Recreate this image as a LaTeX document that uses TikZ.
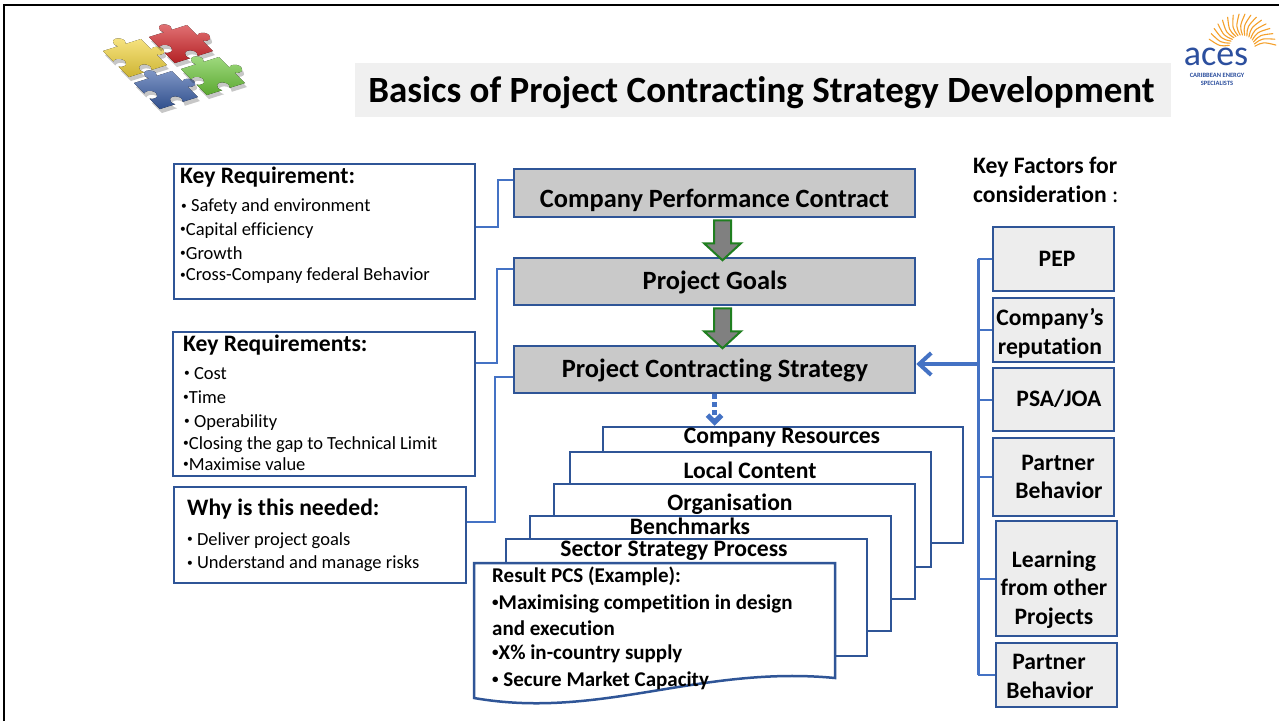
\documentclass[tikz,border=0pt]{standalone}
\usepackage{fontspec}
\setmainfont{Carlito}[Ligatures={NoCommon}]
\usetikzlibrary{arrows.meta,calc}

\definecolor{dkblue}{HTML}{2F5597}
\definecolor{lnblue}{HTML}{4472C4}
\definecolor{boxgray}{HTML}{C9C9C9}
\definecolor{factgray}{HTML}{EDEDED}
\definecolor{titlebg}{HTML}{F0F0F0}
\definecolor{arrowgray}{HTML}{808080}
\definecolor{arrowgreen}{HTML}{1F7F1F}
\definecolor{acesblue}{HTML}{2C4F9E}
\definecolor{sunorange}{HTML}{F5A02A}
\definecolor{pzyellow}{HTML}{F2D43C}
\definecolor{pzred}{HTML}{D2262A}
\definecolor{pzblue}{HTML}{3A5EA6}
\definecolor{pzgreen}{HTML}{6CC63A}

% font sizes (1pt = 1 unit of the drawing)
\newcommand\ftitle{\fontsize{37}{44}\selectfont\bfseries}
\newcommand\fmid{\fontsize{26.4}{31}\selectfont\bfseries}
\newcommand\fhead{\fontsize{23.6}{28}\selectfont\bfseries}
\newcommand\fitem{\fontsize{18.5}{22}\selectfont}
\newcommand\fres{\fontsize{21}{25}\selectfont\bfseries}
% small list bullet
\newcommand\bul{\raisebox{0.12em}{\scalebox{0.62}{\textbullet}}}

% one jigsaw piece in the unit square
\newcommand\puzzshape{(0,0) -- (0.4,0) arc[start angle=135,end angle=405,radius=0.1414]
  -- (1,0) -- (1,0.4) arc[start angle=-135,end angle=135,radius=0.1414]
  -- (1,1) -- (0.6,1) arc[start angle=45,end angle=-225,radius=0.1414]
  -- (0,1) -- (0,0.6) arc[start angle=135,end angle=-135,radius=0.1414] -- cycle}

\begin{document}
\begin{tikzpicture}[x=1pt,y=-1pt,
  lbox/.style={draw=dkblue, line width=2.5pt, fill=white, inner sep=0pt},
  cbox/.style={draw=dkblue, line width=2.5pt, fill=boxgray, inner sep=0pt},
  rbox/.style={draw=dkblue, line width=2.5pt, fill=factgray, inner sep=0pt},
  pagebox/.style={draw=dkblue, line width=2.5pt, fill=white, inner sep=0pt},
  conn/.style={draw=lnblue, line width=2pt},
  bus/.style={draw=lnblue, line width=3pt},
  hubarrow/.style={draw=lnblue, line width=4pt, -{Straight Barb[length=12pt,width=22pt]}},
  dasharrow/.style={draw=lnblue, line width=5pt, dash pattern=on 5pt off 3pt, -{Straight Barb[length=7pt,width=14pt]}},
  garrow/.style={fill=arrowgray, draw=arrowgreen, line width=2pt, line join=miter},
  lt/.style={anchor=base west, inner sep=0pt},
  ct/.style={anchor=base, inner sep=0pt},
  sunray/.style={draw=sunorange, line width=1.1pt, line cap=round}
]
\useasboundingbox (0,0) rectangle (1279,721);
\fill[white] (0,0) rectangle (1279,721);

% outer frame
\draw[line width=2pt] (4,721) -- (4,5) -- (1279,5);

% jigsaw pieces
\foreach \px/\py/\pc in {135/58/pzyellow, 181/44/pzred, 166/90/pzblue, 213/76/pzgreen}{
  \fill[black, opacity=0.22, shift={(\px+2,\py+4)}, x={(38pt,12pt)}, y={(26pt,-26pt)}, shift={(-0.5,-0.5)}] \puzzshape;
  \fill[top color=\pc!65!white, bottom color=\pc!85!black, shift={(\px,\py)}, x={(38pt,12pt)}, y={(26pt,-26pt)}, shift={(-0.5,-0.5)}] \puzzshape;
}

% logo
\coordinate (sunc) at (1242,48);
\foreach \a in {8,18,...,168}{
  \draw[sunray] ($(sunc)+(-\a:13)$) .. controls ($(sunc)+(-\a-8:22)$) .. ($(sunc)+(-\a+3:34)$);
}
\node[ct, text=acesblue, font=\fontsize{36}{40}\selectfont] (aces) at (1216,65) {aces};
\node[ct, text=acesblue, font=\fontsize{6.5}{7}\selectfont\bfseries] (acesa) at (1217,77) {CARIBBEAN ENERGY};
\node[ct, text=acesblue, font=\fontsize{6.5}{7}\selectfont\bfseries] (acesb) at (1217,85) {SPECIALISTS};

% title
\node[fill=titlebg, minimum width=816pt, minimum height=54pt, inner sep=0pt] (titlebox) at (763,90) {};
\node[ct, font=\ftitle] (title) at (761.5,102) {Basics of Project Contracting Strategy Development};

% left bracket connectors
\coordinate (j1a) at (498,227); \coordinate (j1b) at (498,180);
\coordinate (j2a) at (497,363); \coordinate (j2b) at (497,269);
\coordinate (j3a) at (495,522); \coordinate (j3b) at (495,377);

% left boxes
\node[lbox, minimum width=301pt, minimum height=135pt] (box1) at (324.5,231.5) {};
\node[lt, font=\fhead] (b1h) at (180,183) {Key Requirement:};
\node[lt, font=\fitem] (b1a) at (181,211.5) {\bul\ Safety and environment};
\node[lt, font=\fitem] (b1b) at (180,235) {\bul Capital efficiency};
\node[lt, font=\fitem] (b1c) at (180,259) {\bul Growth};
\node[lt, font=\fitem] (b1d) at (180,280.5) {\bul Cross-Company federal Behavior};

\node[lbox, minimum width=302pt, minimum height=144pt] (box2) at (324,404) {};
\node[lt, font=\fhead] (b2h) at (183,351) {Key Requirements:};
\node[lt, font=\fitem] (b2a) at (184,379) {\bul\ Cost};
\node[lt, font=\fitem] (b2b) at (183,403) {\bul Time};
\node[lt, font=\fitem] (b2c) at (184,427) {\bul\ Operability};
\node[lt, font=\fitem] (b2d) at (183,449) {\bul Closing the gap to Technical Limit};
\node[lt, font=\fitem] (b2e) at (183,470) {\bul Maximise value};

\node[lbox, minimum width=292pt, minimum height=96pt] (box3) at (320,535) {};
\node[lt, font=\fhead] (b3h) at (187,515) {Why is this needed:};
\node[lt, font=\fitem] (b3a) at (187,545) {\bul\ Deliver project goals};
\node[lt, font=\fitem] (b3b) at (187,568.5) {\bul\ Understand and manage risks};

% central chain
\node[cbox, minimum width=401pt, minimum height=48pt] (cpc) at (714.5,193) {};
\node[ct, font=\fmid] (cpcT) at (714.5,207) {Company Performance Contract};
\node[cbox, minimum width=401pt, minimum height=47pt] (pg) at (714.5,281.5) {};
\node[ct, font=\fmid] (pgT) at (715,289.5) {Project Goals};
\node[cbox, minimum width=401pt, minimum height=47pt] (pcs) at (714.5,369.5) {};
\node[ct, font=\fmid] (pcsT) at (715,377) {Project Contracting Strategy};

\draw[conn] (box1.east |- j1a) -- (j1a) -- (j1b) -- (cpc.west |- j1b);
\draw[conn] (box2.east |- j2a) -- (j2a) -- (j2b) -- (pg.west |- j2b);
\draw[conn] (box3.east |- j3a) -- (j3a) -- (j3b) -- (pcs.west |- j3b);

% block arrows between the central boxes
\path ($(cpc.south)+(8,2)$) coordinate (ga1);
\draw[garrow] (ga1) ++(-8.5,0) -- ++(0,23) -- ++(-10,0) -- ++(18.5,17) -- ++(18.5,-17) -- ++(-10,0) -- ++(0,-23) -- cycle;
\path ($(pg.south)+(8,2)$) coordinate (ga2);
\draw[garrow] (ga2) ++(-8.5,0) -- ++(0,23) -- ++(-10,0) -- ++(18.5,17) -- ++(18.5,-17) -- ++(-10,0) -- ++(0,-23) -- cycle;

% stacked pages
\node[pagebox, minimum width=360pt, minimum height=116pt] (pcr) at (783,485) {};
\node[ct, font=\fhead] (pcrT) at (782,443) {Company Resources};
\node[pagebox, minimum width=361pt, minimum height=115pt] (plc) at (750.5,509.5) {};
\node[ct, font=\fhead] (plcT) at (750,478) {Local Content};
\node[pagebox, minimum width=361pt, minimum height=115pt] (porg) at (734.5,541.5) {};
\node[ct, font=\fhead] (porgT) at (730,510) {Organisation};
\node[pagebox, minimum width=361pt, minimum height=115pt] (pbm) at (710.5,573.5) {};
\node[ct, font=\fhead] (pbmT) at (690,534) {Benchmarks};
\node[pagebox, minimum width=361pt, minimum height=117pt] (pssp) at (686.5,597.5) {};
\node[ct, font=\fhead] (psspT) at (674,556) {Sector Strategy Process};
\draw[pagebox] (474,563) coordinate (resTL) -- (835,563) -- (835,678)
  .. controls (700,665) and (600,720) .. (474,698) -- cycle;
\node[lt, font=\fres] (r1) at (492,582) {Result PCS (Example):};
\node[lt, font=\fres] (r2) at (492,609) {\bul Maximising competition in design};
\node[lt, font=\fres] (r3) at (492,635) {and execution};
\node[lt, font=\fres] (r4) at (492,659) {\bul X\% in-country supply};
\node[lt, font=\fres] (r5) at (492,686) {\bul\ Secure Market Capacity};

\draw[dasharrow] (pcs.south) -- (pcs.south |- pcr.north);

% key factors
\node[lt, font=\fhead] (kf1) at (973,173) {Key Factors for};
\node[lt, font=\fhead] (kf2) at (973,202) {consideration\mdseries\ :};

\node[rbox, minimum width=121pt, minimum height=64pt] (pep) at (1053.5,259) {};
\node[ct, font=\fhead] (pepT) at (1057,266) {PEP};
\node[rbox, minimum width=121pt, minimum height=64pt] (crep) at (1053.5,330) {};
\node[ct, font=\fhead] (crepT1) at (1050,325) {Company’s};
\node[ct, font=\fhead] (crepT2) at (1050,354) {reputation};
\node[rbox, minimum width=121pt, minimum height=63pt] (psa) at (1053.5,399.5) {};
\node[ct, font=\fhead] (psaT) at (1059,406) {PSA/JOA};
\node[rbox, minimum width=121pt, minimum height=78pt] (pb1) at (1053.5,477) {};
\node[ct, font=\fhead] (pb1T1) at (1058,470) {Partner};
\node[ct, font=\fhead] (pb1T2) at (1059,498) {Behavior};
\node[rbox, minimum width=121pt, minimum height=115pt] (lfp) at (1056.5,578.5) {};
\node[ct, font=\fhead] (lfpT1) at (1054,567) {Learning};
\node[ct, font=\fhead] (lfpT2) at (1054,595) {from other};
\node[ct, font=\fhead] (lfpT3) at (1054,624) {Projects};
\node[rbox, minimum width=121pt, minimum height=64pt] (pb2) at (1056.5,675) {};
\node[ct, font=\fhead] (pb2T1) at (1049,669) {Partner};
\node[ct, font=\fhead] (pb2T2) at (1050,698) {Behavior};

% bus feeding the strategy box
\coordinate (busT) at (978,259);
\coordinate (busB) at (978,675);
\coordinate (hub) at (978,364);
\draw[bus] (busT) -- (busB);
\foreach \b in {pep,crep,psa,pb1,lfp,pb2}
  \draw[conn] (busT |- \b.west) -- (\b.west);
\draw[hubarrow] (hub) -- (pcs.east |- hub);

\end{tikzpicture}
\end{document}
